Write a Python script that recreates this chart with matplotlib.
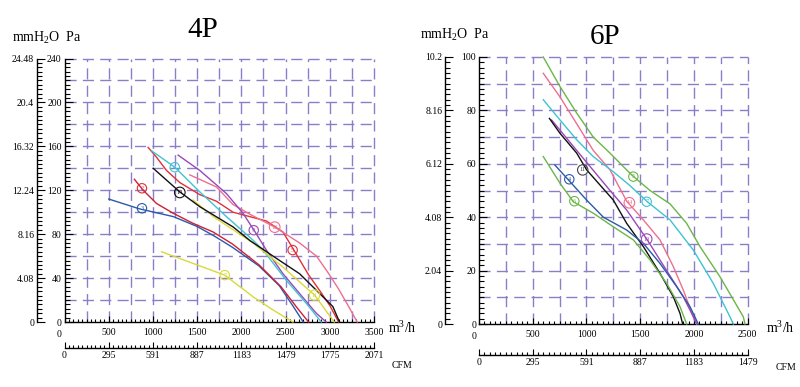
import matplotlib
matplotlib.use('Agg')
import matplotlib.pyplot as plt
import numpy as np
from matplotlib.ticker import MultipleLocator, FixedLocator, FixedFormatter

plt.rcParams['font.family'] = ['Liberation Serif', 'DejaVu Serif']
plt.rcParams['mathtext.fontset'] = 'custom'
plt.rcParams['mathtext.rm'] = 'Liberation Serif'
plt.rcParams['mathtext.it'] = 'Liberation Serif:italic'

# ---------------- data: 4P panel (x in m3/h, y in Pa) ----------------
p4_blue3_x = [500, 850, 1230, 1500, 1700, 1900, 2200, 2430, 2580, 2700]
p4_blue3_y = [112, 103, 96, 87, 78, 68, 51, 33, 15, 0]
p4_red2_x = [790, 890, 1040, 1230, 1450, 1680, 1900, 2200, 2450, 2620, 2760]
p4_red2_y = [130, 120, 108, 99, 90, 82, 71, 52, 32, 14, 0]
p4_red5_x = [946, 1041, 1154, 1304, 1530, 1718, 1906, 2094, 2283, 2470, 2583, 2760, 2900, 3000, 3100]
p4_red5_y = [159, 150, 138, 127, 116, 110, 100, 96, 92, 82, 67, 43, 27, 15, 0]
p4_pink12_x = [1417, 1718, 1906, 2100, 2388, 2658, 2850, 2980, 3100, 3200, 3310]
p4_pink12_y = [134, 123, 107, 98, 86, 72, 60, 45, 30, 16, 0]
p4_purple9_x = [1285, 1530, 1831, 2019, 2140, 2283, 2470, 2658, 2847, 2960]
p4_purple9_y = [152, 138, 117, 99, 84, 65.5, 44, 26, 8, 0]
p4_cyan4_x = [984, 1247, 1530, 1831, 2132, 2245, 2508, 2734, 2904]
p4_cyan4_y = [156, 141, 118.5, 96, 74.5, 65.5, 38, 17, 0]
p4_black14_x = [1003, 1304, 1530, 1906, 2100, 2433, 2658, 2847, 3035, 3110]
p4_black14_y = [140, 118.5, 105, 86.6, 74, 56, 44, 29, 14, 0]
p4_yellow11_x = [1454, 1700, 1906, 2132, 2470, 2828, 3050]
p4_yellow11_y = [111, 95, 84, 72, 50, 24.5, 0]
p4_yellow7_x = [1097, 1812, 2132, 2357, 2583]
p4_yellow7_y = [64, 42.7, 23, 11, 0]

p4_label_text = ['2', '3', '4', '14', '9', '12', '5', '7', '11']
p4_label_x = [876, 876, 1247, 1304, 2140, 2377, 2580, 1812, 2828]
p4_label_y = [121.8, 103.6, 141, 118, 83.6, 86.4, 65.5, 42.7, 24.5]

# ---------------- data: 6P panel ----------------
p6_green5_x = [598, 754, 909, 1063, 1219, 1421, 1591, 1777, 1932, 2056, 2242, 2459, 2475]
p6_green5_y = [100, 88.9, 79, 70, 64, 55.8, 50, 45, 37.7, 29, 17.7, 2.7, 0]
p6_pink14_x = [598, 754, 909, 1063, 1219, 1374, 1529, 1684, 1808, 1901, 1994, 2025]
p6_pink14_y = [93.9, 85, 75, 65, 57.7, 46, 39, 31.5, 21.5, 12.7, 2.7, 0]
p6_cyan7_x = [598, 754, 909, 1063, 1250, 1400, 1560, 1777, 1994, 2180, 2335, 2366]
p6_cyan7_y = [84, 76.4, 69, 62.7, 57, 52, 46, 39, 27.7, 15.2, 2.7, 0]
p6_black11_x = [655, 754, 909, 1002, 1250, 1374, 1529, 1684, 1808, 1870, 1895]
p6_black11_y = [77, 71.4, 64, 57.7, 46.4, 37.7, 29, 19, 10.2, 4, 0]
p6_purple10_x = [676, 909, 1219, 1374, 1566, 1746, 1901, 1994, 2025]
p6_purple10_y = [76.4, 65, 50, 42.7, 31.5, 20, 10.2, 2.7, 0]
p6_blue4_x = [707, 831, 1002, 1157, 1374, 1529, 1684, 1839, 1963, 2040]
p6_blue4_y = [59.5, 54, 46.4, 40, 35.2, 30.2, 22.7, 14, 6.5, 0]
p6_green6_x = [598, 754, 877, 1063, 1250, 1436, 1591, 1746, 1870, 1932]
p6_green6_y = [62.7, 52.7, 45.8, 41.5, 36.4, 31.5, 24, 15.2, 6.5, 0]

p6_label_text = ['11', '4', '6', '5', '14', '7', '10']
p6_label_x = [965, 840, 887, 1436, 1399, 1560, 1560]
p6_label_y = [57.7, 54.2, 46, 55.2, 45.4, 45.8, 31.8]

# axis tick labels
p4_pa_ticks = [0, 40, 80, 120, 160, 200, 240]
p4_mm_ticks = ['0', '4.08', '8.16', '12.24', '16.32', '20.4', '24.48']
p4_flow_ticks = [500, 1000, 1500, 2000, 2500, 3000, 3500]
p4_cfm_ticks = ['0', '295', '591', '887', '1183', '1479', '1775', '2071']

p6_pa_ticks = [0, 20, 40, 60, 80, 100]
p6_mm_ticks = ['0', '2.04', '4.08', '6.12', '8.16', '10.2']
p6_flow_ticks = [500, 1000, 1500, 2000, 2500]
p6_cfm_ticks = ['0', '295', '591', '887', '1183', '1479']

# colours
C_BLUE = '#2b5aa8'
C_RED = '#e03036'
C_DRED = '#cc2035'
C_PINK = '#ee6f8e'
C_PURPLE = '#9a48b8'
C_CYAN = '#3ec3d3'
C_BLACK = '#111111'
C_YELLOW = '#d9d93a'
C_GREEN = '#6cb548'
GRID = '#8c7dc8'

W, H = 800, 387
fig = plt.figure(figsize=(8, 3.87), dpi=100)


def px_axes(x0, y0, x1, y1):
    return fig.add_axes([x0 / W, 1 - y1 / H, (x1 - x0) / W, (y1 - y0) / H])


def build_panel(rect, xmax, pamax, pa_ticks, pa_minor, grid_dy, mm_labels, mm_minor,
                flow_ticks, cfm_labels, mm_off, cfm_off, curves, labels):
    ax = px_axes(*rect)
    ax.set_xlim(0, xmax)
    ax.set_ylim(0, pamax)
    ax.patch.set_alpha(0)
    for s in ['top', 'right']:
        ax.spines[s].set_visible(False)
    for s in ['left', 'bottom']:
        ax.spines[s].set_linewidth(1.0)
    # dashed grid
    for gx in np.arange(250, xmax + 1, 250):
        ax.plot([gx, gx], [0, pamax], color=GRID, lw=1.0, ls=(0, (8, 4.5)),
                clip_on=False, zorder=0.5)
    for gy in np.arange(grid_dy, pamax + 0.01, grid_dy):
        ax.plot([0, xmax], [gy, gy], color=GRID, lw=1.0, ls=(0, (8, 4.5)),
                clip_on=False, zorder=0.5)
    # Pa axis
    ax.yaxis.set_major_locator(FixedLocator(pa_ticks))
    ax.yaxis.set_minor_locator(MultipleLocator(pa_minor))
    ax.tick_params(axis='y', which='major', direction='in', length=5.5, width=0.8,
                   labelsize=7, pad=2)
    ax.tick_params(axis='y', which='minor', direction='in', length=3.5, width=0.8)
    # flow axis
    ax.xaxis.set_major_locator(FixedLocator(flow_ticks))
    ax.xaxis.set_major_formatter(FixedFormatter([str(v) for v in flow_ticks]))
    ax.xaxis.set_minor_locator(MultipleLocator(50))
    ax.tick_params(axis='x', which='major', direction='in', length=4, width=0.8,
                   labelsize=7, pad=4)
    ax.tick_params(axis='x', which='minor', direction='in', length=2.5, width=0.8)
    ax.text(-0.018, -0.03, '0', transform=ax.transAxes, ha='center', va='top', fontsize=7)

    # mmH2O axis
    ax2 = ax.twinx()
    ax2.set_ylim(0, pamax)
    for s in ['top', 'right', 'bottom']:
        ax2.spines[s].set_visible(False)
    ax2.spines['left'].set_visible(True)
    ax2.spines['left'].set_position(('outward', mm_off))
    ax2.spines['left'].set_linewidth(1.0)
    ax2.yaxis.set_ticks_position('left')
    ax2.yaxis.set_label_position('left')
    ax2.yaxis.set_major_locator(FixedLocator(pa_ticks))
    ax2.yaxis.set_major_formatter(FixedFormatter(mm_labels))
    ax2.yaxis.set_minor_locator(MultipleLocator(mm_minor))
    ax2.tick_params(axis='y', which='major', direction='in', length=5.5, width=0.8,
                    labelsize=7, pad=2)
    ax2.tick_params(axis='y', which='minor', direction='in', length=3.5, width=0.8)

    # CFM axis
    ax3 = ax.twiny()
    ax3.set_xlim(0, xmax)
    for s in ['top', 'right', 'left']:
        ax3.spines[s].set_visible(False)
    ax3.spines['bottom'].set_visible(True)
    ax3.spines['bottom'].set_position(('outward', cfm_off))
    ax3.spines['bottom'].set_linewidth(1.0)
    ax3.xaxis.set_ticks_position('bottom')
    ax3.xaxis.set_label_position('bottom')
    cfm_pos = [0] + list(flow_ticks)
    ax3.xaxis.set_major_locator(FixedLocator(cfm_pos))
    ax3.xaxis.set_major_formatter(FixedFormatter(cfm_labels))
    ax3.xaxis.set_minor_locator(MultipleLocator(50))
    ax3.tick_params(axis='x', which='major', direction='in', length=4, width=0.8,
                    labelsize=7, pad=2)
    ax3.tick_params(axis='x', which='minor', direction='in', length=2.5, width=0.8)

    for xs, ys, c in curves:
        ax.plot(xs, ys, color=c, lw=1.0, zorder=3, clip_on=False)
    for (t, lx, ly, c) in labels:
        ax.text(lx, ly, t, color=c, fontsize=4.5, ha='center', va='center', zorder=4,
                bbox=dict(boxstyle='circle,pad=0.35', fc='none', ec=c, lw=0.8))
    return ax


p4_curves = [
    (p4_blue3_x, p4_blue3_y, C_BLUE),
    (p4_red2_x, p4_red2_y, C_DRED),
    (p4_red5_x, p4_red5_y, C_RED),
    (p4_pink12_x, p4_pink12_y, C_PINK),
    (p4_purple9_x, p4_purple9_y, C_PURPLE),
    (p4_cyan4_x, p4_cyan4_y, C_CYAN),
    (p4_yellow11_x, p4_yellow11_y, C_YELLOW),
    (p4_black14_x, p4_black14_y, C_BLACK),
    (p4_yellow7_x, p4_yellow7_y, C_YELLOW),
]
p4_label_colors = [C_RED, C_BLUE, C_CYAN, C_BLACK, C_PURPLE, C_PINK, C_RED, C_YELLOW, C_YELLOW]
p4_labels = list(zip(p4_label_text, p4_label_x, p4_label_y, p4_label_colors))

p6_curves = [
    (p6_green5_x, p6_green5_y, C_GREEN),
    (p6_pink14_x, p6_pink14_y, C_PINK),
    (p6_cyan7_x, p6_cyan7_y, C_CYAN),
    (p6_purple10_x, p6_purple10_y, C_PURPLE),
    (p6_black11_x, p6_black11_y, C_BLACK),
    (p6_blue4_x, p6_blue4_y, C_BLUE),
    (p6_green6_x, p6_green6_y, C_GREEN),
]
p6_label_colors = ['#444444', C_BLUE, C_GREEN, C_GREEN, C_PINK, C_CYAN, C_PURPLE]
p6_labels = list(zip(p6_label_text, p6_label_x, p6_label_y, p6_label_colors))

build_panel((64.5, 58.5, 374, 322), 3500, 240, p4_pa_ticks, 4, 20, p4_mm_ticks, 4,
            p4_flow_ticks, p4_cfm_ticks, 19.8, 18.7, p4_curves, p4_labels)
build_panel((479, 57, 747.7, 324), 2500, 100, p6_pa_ticks, 2, 10, p6_mm_ticks, 2,
            p6_flow_ticks, p6_cfm_ticks, 24.5, 22.3, p6_curves, p6_labels)

# titles and unit labels
fig.text(203 / W, 1 - 30 / H, '4P', fontsize=21, ha='center', va='center')
fig.text(605 / W, 1 - 37 / H, '6P', fontsize=21, ha='center', va='center')
fig.text(12 / W, 1 - 38 / H, r'mmH$_\mathregular{2}$O  Pa', fontsize=10, ha='left', va='center')
fig.text(420 / W, 1 - 35 / H, r'mmH$_\mathregular{2}$O  Pa', fontsize=10, ha='left', va='center')
fig.text(388 / W, 1 - 328 / H, r'm$^\mathregular{3}$/h', fontsize=10, ha='left', va='center')
fig.text(766 / W, 1 - 328 / H, r'm$^\mathregular{3}$/h', fontsize=10, ha='left', va='center')
fig.text(392 / W, 1 - 366 / H, 'CFM', fontsize=7, ha='left', va='center')
fig.text(776 / W, 1 - 367 / H, 'CFM', fontsize=7, ha='left', va='center')

fig.savefig('out.png', dpi=100)
